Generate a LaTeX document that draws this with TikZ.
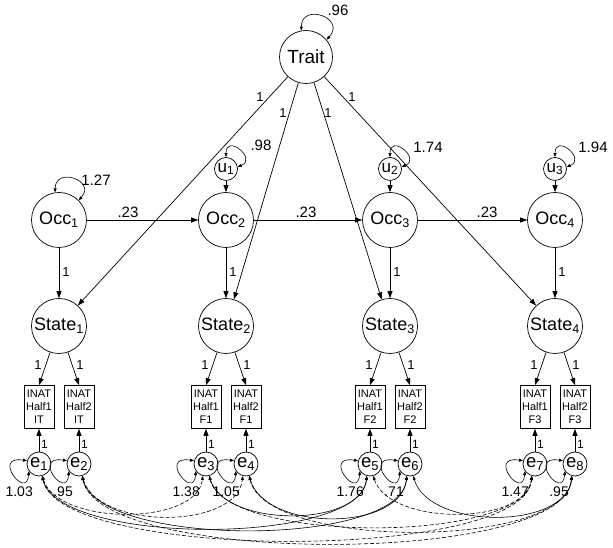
\documentclass[tikz,border=0pt]{standalone}
\usepackage{fontspec}
\setmainfont{Liberation Sans}
\usetikzlibrary{arrows.meta}
\begin{document}
\begin{tikzpicture}[x=1pt,y=1pt,
  every node/.style={inner sep=0pt},
  lat/.style={draw, circle, line width=0.7pt, minimum size=55pt, font=\fontsize{18}{18}\selectfont},
  smlat/.style={draw, circle, line width=0.7pt, minimum size=23pt, font=\fontsize{17}{17}\selectfont},
  obs/.style={draw, rectangle, line width=0.7pt, minimum width=30pt, minimum height=43pt, align=center, font=\fontsize{11}{13}\selectfont},
  reg/.style={line width=0.7pt, -{Triangle[length=7pt,width=5pt]}},
  cov/.style={line width=0.6pt, {Triangle[length=4pt,width=3pt]}-{Triangle[length=4pt,width=3pt]}},
  dcov/.style={cov, dash pattern=on 4pt off 2pt},
  lbl/.style={font=\fontsize{15}{15}\selectfont},
  one/.style={font=\fontsize{13}{13}\selectfont},
  sone/.style={font=\fontsize{12}{12}\selectfont},
]
\useasboundingbox (0,0) rectangle (613,548);

% Trait
\node[lat, minimum size=53pt, font=\fontsize{19}{19}\selectfont] (T) at (306,491) {Trait};

% Occasion and state factors
\foreach \i/\x in {1/59,2/226,3/390,4/555} {
  \node[lat] (O\i) at (\x,328) {Occ\textsubscript{\i}};
  \node[lat] (S\i) at (\x,222) {State\textsubscript{\i}};
}
\foreach \i/\x in {1/226,2/390,3/555} {
  \node[smlat] (u\i) at (\x,379) {u\textsubscript{\i}};
}

% indicators and errors
\foreach \i/\x/\h/\f in {1/39/1/IT, 2/79/2/IT, 3/206/1/F1, 4/246/2/F1, 5/370/1/F2, 6/410/2/F2, 7/535/1/F3, 8/575/2/F3} {
  \node[obs] (b\i) at (\x,141) {INAT\\Half\h\\\f};
  \node[smlat, minimum size=24pt, font=\fontsize{18.5}{18}\selectfont] (e\i) at (\x,84) {e\textsubscript{\i}};
}

% Trait loadings
\foreach \i in {1,2,3,4} \draw[reg] (T) -- (S\i);
\node[one] at (260,451) {1};
\node[one] at (283,435) {1};
\node[one] at (328,435) {1};
\node[one] at (352,451) {1};

% autoregressive paths
\draw[reg] (O1) -- (O2);
\draw[reg] (O2) -- (O3);
\draw[reg] (O3) -- (O4);
\node[lbl] at (128,336) {.23};
\node[lbl] at (306,336) {.23};
\node[lbl] at (487,336) {.23};

% u -> Occ
\draw[reg] (u1) -- (O2);
\draw[reg] (u2) -- (O3);
\draw[reg] (u3) -- (O4);

% Occ -> State
\foreach \i/\x in {1/59,2/226,3/390,4/555} {
  \draw[reg] (O\i) -- (S\i);
  \node[one] at (\x+7,276) {1};
}

% State -> indicators
\draw[reg] (S1) -- (b1.north); \draw[reg] (S1) -- (b2.north);
\draw[reg] (S2) -- (b3.north); \draw[reg] (S2) -- (b4.north);
\draw[reg] (S3) -- (b5.north); \draw[reg] (S3) -- (b6.north);
\draw[reg] (S4) -- (b7.north); \draw[reg] (S4) -- (b8.north);
\foreach \x in {59,226,390,555} {
  \node[one] at (\x-21,183) {1};
  \node[one] at (\x+21,183) {1};
}

% errors -> indicators
\foreach \i/\x in {1/39,2/79,3/206,4/246,5/370,6/410,7/535,8/575} {
  \draw[reg] (e\i) -- (b\i);
  \node[sone] at (\x+5.5,104) {1};
}

% variances
\draw[cov] (T.100) .. controls +(0,28) and +(20,22) .. (T.40);
\node[lbl] at (338,538) {.96};
\draw[cov] (O1.98) .. controls +(0,26) and +(18,20) .. (O1.45);
\node[lbl] at (96,368) {1.27};
\foreach \i in {1,2,3} \draw[cov] (u\i.90) .. controls +(0,24) and +(20,8) .. (u\i.10);
\node[lbl] at (261,403) {.98};
\node[lbl] at (428,401) {1.74};
\node[lbl] at (593,401) {1.94};

\foreach \i/\x/\v in {1/39/1.03, 2/79/.95, 3/206/1.38, 4/246/1.05, 5/370/1.76, 6/410/.71, 7/535/1.47, 8/575/.95} {
  \draw[cov] (e\i.215) .. controls +(-2,-30) and +(-36,6) .. (e\i.165);
  \node[font=\fontsize{14}{14}\selectfont, anchor=east] at (\x-6,56) {\v};
}

% correlated uniquenesses
\draw[dcov] (e1.-75) .. controls +(16,-50) and +(-6,-50) .. (e3.-105);
\draw[dcov] (e2.-75) .. controls +(16,-54) and +(-6,-54) .. (e4.-105);
\draw[cov]  (e3.-75) .. controls +(16,-52) and +(-6,-52) .. (e5.-105);
\draw[cov]  (e4.-75) .. controls +(16,-56) and +(-6,-56) .. (e6.-105);
\draw[dcov] (e5.-75) .. controls +(16,-50) and +(-6,-50) .. (e7.-105);
\draw[cov]  (e6.-75) .. controls +(16,-54) and +(-6,-54) .. (e8.-105);
\draw[cov]  (e1.-75) .. controls +(16,-70) and +(-6,-70) .. (e5.-105);
\draw[cov]  (e2.-75) .. controls +(16,-72) and +(-6,-72) .. (e6.-105);
\draw[dcov] (e3.-75) .. controls +(16,-68) and +(-6,-68) .. (e7.-105);
\draw[dcov] (e4.-75) .. controls +(16,-74) and +(-6,-74) .. (e8.-105);
\draw[dcov] (e1.-75) .. controls +(16,-86) and +(-6,-86) .. (e7.-105);
\draw[dcov] (e2.-75) .. controls +(16,-90) and +(-6,-90) .. (e8.-105);
\end{tikzpicture}
\end{document}
